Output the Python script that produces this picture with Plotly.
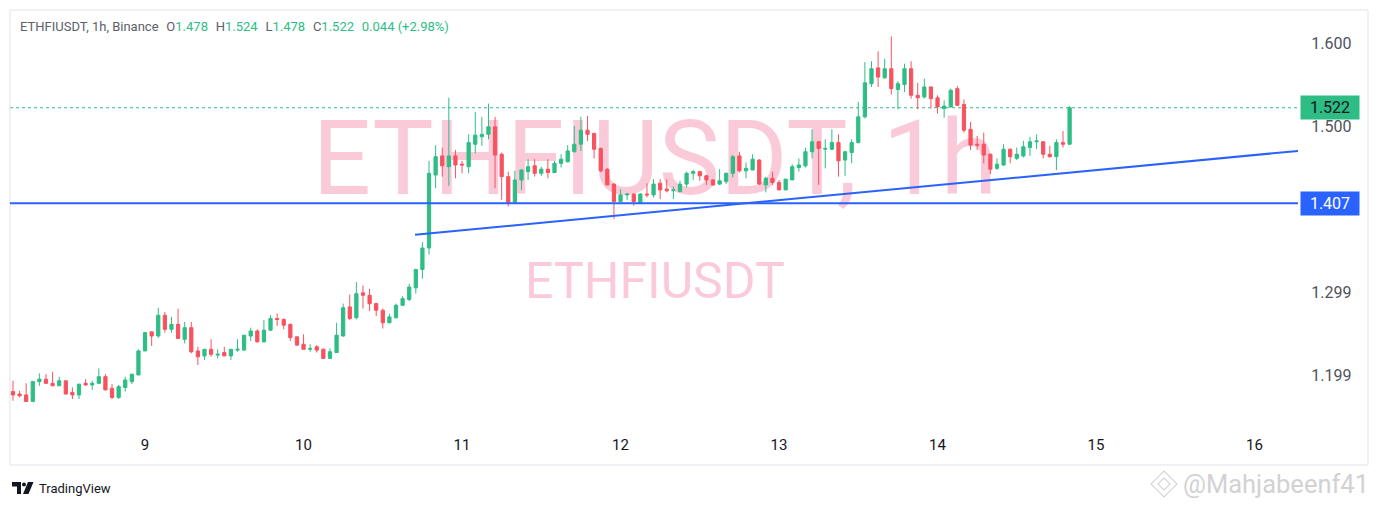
import plotly.graph_objects as go
import pandas as pd

SYMBOL = "ETHFIUSDT"
INTERVAL = "1h"
EXCHANGE = "Binance"
start_time = "2024-11-08 04:00"

opens = [
    1.180, 1.177, 1.176, 1.168, 1.192, 1.195, 1.190, 1.187, 1.193, 1.179, 1.176, 1.190, 1.188, 1.190, 1.198, 1.184, 1.173, 1.185, 1.192, 1.200,
    1.229, 1.252, 1.247, 1.272, 1.255, 1.261, 1.243, 1.257, 1.229, 1.223, 1.231, 1.224, 1.227, 1.223, 1.230, 1.230, 1.247, 1.253, 1.240, 1.254, 1.268, 1.267, 1.261, 1.246,
    1.237, 1.231, 1.234, 1.231, 1.220, 1.227, 1.247, 1.282, 1.269, 1.299, 1.296, 1.286, 1.278, 1.263, 1.269, 1.284, 1.291, 1.305, 1.327, 1.353, 1.441, 1.464, 1.451, 1.464,
    1.454, 1.451, 1.478, 1.487, 1.490, 1.499, 1.466, 1.439, 1.408, 1.435, 1.445, 1.452, 1.443, 1.448, 1.444, 1.455, 1.457, 1.469, 1.478, 1.495, 1.491, 1.473, 1.448, 1.430,
    1.409, 1.417, 1.418, 1.407, 1.418, 1.417, 1.431, 1.424, 1.422, 1.421, 1.430, 1.443, 1.445, 1.440, 1.435, 1.430, 1.433, 1.443, 1.464, 1.446, 1.447, 1.459, 1.429, 1.437,
    1.432, 1.423, 1.435, 1.450, 1.452, 1.469, 1.481, 1.472, 1.472, 1.480, 1.459, 1.468, 1.480, 1.511, 1.551, 1.570, 1.558, 1.569, 1.544, 1.550, 1.569, 1.537, 1.535, 1.547,
    1.534, 1.521, 1.523, 1.545, 1.526, 1.496, 1.478, 1.478, 1.466, 1.449, 1.453, 1.472, 1.461, 1.464, 1.474, 1.481, 1.481, 1.466, 1.463, 1.480, 1.478,
]
highs = [
    1.193, 1.181, 1.190, 1.193, 1.202, 1.201, 1.204, 1.198, 1.193, 1.185, 1.189, 1.195, 1.193, 1.208, 1.201, 1.189, 1.188, 1.198, 1.201, 1.231,
    1.252, 1.252, 1.281, 1.276, 1.270, 1.280, 1.264, 1.264, 1.234, 1.231, 1.243, 1.231, 1.234, 1.231, 1.243, 1.248, 1.257, 1.255, 1.266, 1.272, 1.274, 1.268, 1.262, 1.246,
    1.249, 1.237, 1.236, 1.232, 1.232, 1.263, 1.286, 1.297, 1.312, 1.308, 1.304, 1.287, 1.280, 1.274, 1.286, 1.295, 1.310, 1.328, 1.360, 1.458, 1.477, 1.474, 1.534, 1.471,
    1.458, 1.490, 1.517, 1.511, 1.527, 1.511, 1.468, 1.445, 1.446, 1.448, 1.460, 1.460, 1.451, 1.460, 1.458, 1.466, 1.477, 1.500, 1.511, 1.512, 1.492, 1.474, 1.449, 1.431,
    1.424, 1.419, 1.419, 1.419, 1.431, 1.436, 1.436, 1.436, 1.427, 1.434, 1.445, 1.447, 1.446, 1.441, 1.436, 1.448, 1.444, 1.465, 1.469, 1.456, 1.466, 1.460, 1.439, 1.445,
    1.435, 1.436, 1.454, 1.461, 1.474, 1.496, 1.482, 1.484, 1.496, 1.490, 1.470, 1.484, 1.529, 1.577, 1.578, 1.590, 1.581, 1.608, 1.554, 1.575, 1.578, 1.552, 1.557, 1.548,
    1.537, 1.531, 1.545, 1.548, 1.532, 1.505, 1.488, 1.492, 1.467, 1.461, 1.478, 1.473, 1.474, 1.482, 1.487, 1.490, 1.482, 1.476, 1.484, 1.494, 1.524,
]
lows = [
    1.169, 1.173, 1.168, 1.168, 1.187, 1.189, 1.187, 1.187, 1.177, 1.171, 1.171, 1.187, 1.182, 1.189, 1.182, 1.171, 1.171, 1.180, 1.189, 1.200,
    1.229, 1.235, 1.245, 1.251, 1.251, 1.244, 1.238, 1.226, 1.212, 1.218, 1.222, 1.220, 1.223, 1.218, 1.228, 1.229, 1.241, 1.239, 1.239, 1.253, 1.259, 1.255, 1.241, 1.235,
    1.231, 1.228, 1.227, 1.220, 1.220, 1.227, 1.246, 1.266, 1.267, 1.280, 1.277, 1.271, 1.256, 1.262, 1.268, 1.283, 1.289, 1.298, 1.316, 1.345, 1.425, 1.439, 1.428, 1.437,
    1.443, 1.443, 1.467, 1.476, 1.484, 1.425, 1.411, 1.403, 1.407, 1.423, 1.435, 1.439, 1.440, 1.437, 1.443, 1.450, 1.456, 1.468, 1.470, 1.482, 1.461, 1.444, 1.429, 1.388,
    1.408, 1.411, 1.404, 1.406, 1.414, 1.414, 1.412, 1.420, 1.412, 1.420, 1.426, 1.435, 1.434, 1.429, 1.428, 1.429, 1.430, 1.438, 1.444, 1.437, 1.447, 1.429, 1.420, 1.429,
    1.423, 1.423, 1.435, 1.445, 1.450, 1.461, 1.429, 1.449, 1.471, 1.439, 1.440, 1.455, 1.479, 1.509, 1.547, 1.547, 1.557, 1.538, 1.520, 1.541, 1.533, 1.520, 1.533, 1.521,
    1.515, 1.510, 1.522, 1.524, 1.492, 1.471, 1.471, 1.455, 1.442, 1.447, 1.452, 1.455, 1.459, 1.462, 1.464, 1.472, 1.461, 1.462, 1.447, 1.474, 1.478,
]
closes = [
    1.176, 1.175, 1.168, 1.192, 1.195, 1.190, 1.187, 1.193, 1.177, 1.176, 1.189, 1.188, 1.190, 1.198, 1.182, 1.173, 1.186, 1.194, 1.201, 1.229,
    1.251, 1.247, 1.272, 1.255, 1.261, 1.244, 1.257, 1.228, 1.222, 1.231, 1.225, 1.225, 1.223, 1.231, 1.231, 1.248, 1.253, 1.240, 1.254, 1.268, 1.267, 1.260, 1.245, 1.236,
    1.231, 1.232, 1.230, 1.220, 1.228, 1.248, 1.281, 1.268, 1.298, 1.296, 1.286, 1.278, 1.263, 1.270, 1.284, 1.292, 1.306, 1.327, 1.353, 1.443, 1.463, 1.452, 1.464, 1.453,
    1.453, 1.480, 1.489, 1.490, 1.499, 1.465, 1.439, 1.408, 1.435, 1.447, 1.451, 1.443, 1.448, 1.444, 1.455, 1.460, 1.470, 1.478, 1.495, 1.490, 1.472, 1.446, 1.429, 1.409,
    1.417, 1.418, 1.409, 1.418, 1.417, 1.430, 1.423, 1.422, 1.423, 1.430, 1.443, 1.445, 1.440, 1.435, 1.429, 1.434, 1.443, 1.463, 1.446, 1.449, 1.460, 1.430, 1.437, 1.432,
    1.423, 1.436, 1.451, 1.453, 1.469, 1.481, 1.473, 1.473, 1.480, 1.458, 1.469, 1.480, 1.511, 1.552, 1.569, 1.559, 1.569, 1.545, 1.551, 1.569, 1.537, 1.534, 1.547, 1.533,
    1.523, 1.524, 1.543, 1.525, 1.495, 1.477, 1.477, 1.465, 1.448, 1.454, 1.472, 1.463, 1.466, 1.475, 1.481, 1.482, 1.466, 1.463, 1.480, 1.478, 1.522,
]

day_ticks = [9, 10, 11, 12, 13, 14, 15, 16]
price_ticks = [1.199, 1.299, 1.500, 1.600]
price_tick_labels = ["1.199", "1.299", "1.500", "1.600"]
support_level = 1.407
trend_start = ("2024-11-10 16:53", 1.369)
trend_end = ("2024-11-16 06:36", 1.470)

UP = "#2EBD85"
DOWN = "#F7525F"
BLUE = "#2962FF"
TEXT = "#131722"
AXIS_TXT = "#50535E"
BORDER = "#E0E3EB"
FONT = "Roboto"

times = pd.date_range(start_time, periods=len(opens), freq="h")

# page geometry: the page body has an 8px margin, so the figure is shrunk by it
OFF = 8
W, H = 1378 - OFF, 507 - OFF
ML, MR, MT, MB = 10 - OFF, 80, 10 - OFF, 80
PW, PH = W - ML - MR, H - MT - MB


def px(x):
    """page x pixel -> paper"""
    return (x - OFF - ML) / PW


def py(y):
    """page y pixel -> paper"""
    return (H - MB - (y - OFF)) / PH


fig = go.Figure()

# background watermark (below candles)
wm_x = [pd.Timestamp("2024-11-12 05:12"), pd.Timestamp("2024-11-12 05:12")]
wm_y = [1.4494, 1.308]
fig.add_trace(go.Scatter(
    x=wm_x, y=wm_y, mode="text",
    text=[f"{SYMBOL}, {INTERVAL}", SYMBOL],
    textposition="middle center",
    textfont=dict(family=FONT, size=[103, 50], color="rgba(240,80,130,0.30)"),
    hoverinfo="skip", showlegend=False, zorder=-1, cliponaxis=False,
))

fig.add_trace(go.Candlestick(
    x=times, open=opens, high=highs, low=lows, close=closes,
    increasing=dict(line=dict(color=UP, width=1), fillcolor=UP),
    decreasing=dict(line=dict(color=DOWN, width=1), fillcolor=DOWN),
    whiskerwidth=0, showlegend=False, hoverinfo="skip",
))

last_o, last_h, last_l, last_c = opens[-1], highs[-1], lows[-1], closes[-1]
chg = last_c - closes[-2]
pct = chg / closes[-2] * 100

shapes = []
shapes.append(dict(type="line", xref="paper", x0=0, x1=1, yref="y", y0=support_level, y1=support_level,
                   line=dict(color=BLUE, width=2), layer="above"))
shapes.append(dict(type="line", xref="x", yref="y", x0=trend_start[0], y0=trend_start[1],
                   x1=trend_end[0], y1=trend_end[1], line=dict(color=BLUE, width=2), layer="above"))
shapes.append(dict(type="line", xref="paper", x0=0, x1=1, yref="y", y0=last_c, y1=last_c,
                   line=dict(color=UP, width=1, dash="dot"), layer="below"))
shapes.append(dict(type="rect", xref="paper", yref="paper", x0=px(10), x1=px(1368), y0=py(465), y1=py(10),
                   line=dict(color=BORDER, width=1), layer="below"))


def path(points):
    return "M " + " L ".join(f"{px(a):.5f},{py(b):.5f}" for a, b in points) + " Z"


# TradingView logo
shapes.append(dict(type="path", xref="paper", yref="paper",
                   path=path([(12, 482), (21, 482), (21, 494), (17, 494), (17, 486.5), (12, 486.5)]),
                   fillcolor=TEXT, line=dict(width=0)))
shapes.append(dict(type="circle", xref="paper", yref="paper", x0=px(22), x1=px(26), y0=py(486.5), y1=py(482.5),
                   fillcolor=TEXT, line=dict(width=0)))
shapes.append(dict(type="path", xref="paper", yref="paper",
                   path=path([(28, 482), (33.5, 482), (28.5, 494), (23, 494)]),
                   fillcolor=TEXT, line=dict(width=0)))
# watermark diamond logo
shapes.append(dict(type="path", xref="paper", yref="paper",
                   path=path([(1164, 471), (1177, 484), (1164, 497), (1151, 484)]),
                   fillcolor="rgba(0,0,0,0)", line=dict(color="#D6D6D6", width=1.2)))
shapes.append(dict(type="path", xref="paper", yref="paper",
                   path=path([(1164, 478), (1170, 484), (1164, 490), (1158, 484)]),
                   fillcolor="rgba(0,0,0,0)", line=dict(color="#D6D6D6", width=1.2)))

g = lambda v: f"<span style='color:{UP}'>{v}</span>"
sp = "\u00a0\u00a0\u200a"
header = (f"{SYMBOL}, {INTERVAL}, {EXCHANGE}{sp}"
          f"O{g(f'{last_o:.3f}')}{sp}H{g(f'{last_h:.3f}')}{sp}"
          f"L{g(f'{last_l:.3f}')}{sp}C{g(f'{last_c:.3f}')}{sp}"
          f"{g(f'{chg:.3f} (+{pct:.2f}%)')}")

annotations = [
    dict(xref="paper", yref="paper", x=px(18), y=py(27), xanchor="left", yanchor="middle",
         text=header, showarrow=False, font=dict(family=FONT, size=13, color="#5D606B")),
    dict(xref="paper", yref="y", x=1, y=last_c, xanchor="left", yanchor="middle", xshift=2,
         text=f"{last_c:.3f}", showarrow=False, bgcolor=UP, width=58, height=23, borderpad=0,
         font=dict(family=FONT, size=16, color=TEXT)),
    dict(xref="paper", yref="y", x=1, y=support_level, xanchor="left", yanchor="middle", xshift=2,
         text=f"{support_level:.3f}", showarrow=False, bgcolor=BLUE, width=58, height=23, borderpad=0,
         font=dict(family=FONT, size=16, color="white")),
    dict(xref="paper", yref="paper", x=px(37), y=py(488), xanchor="left", yanchor="middle",
         text="TradingView", showarrow=False, font=dict(family=FONT, size=13, color=TEXT)),
    dict(xref="paper", yref="paper", x=px(1181), y=py(484), xanchor="left", yanchor="middle",
         text="@Mahjabeenf41", showarrow=False, font=dict(family=FONT, size=25.5, color="#D2D2D2")),
]

tick_dates = [pd.Timestamp(f"2024-11-{d:02d}") for d in day_ticks]

fig.update_layout(
    width=W, height=H,
    margin=dict(l=ML, r=MR, t=MT, b=MB),
    paper_bgcolor="white", plot_bgcolor="white",
    showlegend=False, hovermode=False,
    font=dict(family=FONT, color=AXIS_TXT),
    shapes=shapes, annotations=annotations,
    xaxis=dict(
        type="date",
        range=[pd.Timestamp("2024-11-08 03:33"), pd.Timestamp("2024-11-16 06:35")],
        rangeslider=dict(visible=False),
        showgrid=False, zeroline=False,
        showline=True, linecolor=BORDER, linewidth=1, mirror=True,
        tickvals=tick_dates, ticktext=[str(d) for d in day_ticks],
        ticks="outside", ticklen=4, tickcolor="rgba(0,0,0,0)",
        tickfont=dict(family=FONT, size=15, color=TEXT),
    ),
    yaxis=dict(
        side="right",
        range=[1.13735, 1.63976],
        showgrid=False, zeroline=False,
        showline=True, linecolor=BORDER, linewidth=1, mirror=True,
        tickvals=price_ticks, ticktext=price_tick_labels,
        ticks="outside", ticklen=9, tickcolor="rgba(0,0,0,0)",
        tickfont=dict(family=FONT, size=16, color=AXIS_TXT),
    ),
)

fig.write_html("out.html")
